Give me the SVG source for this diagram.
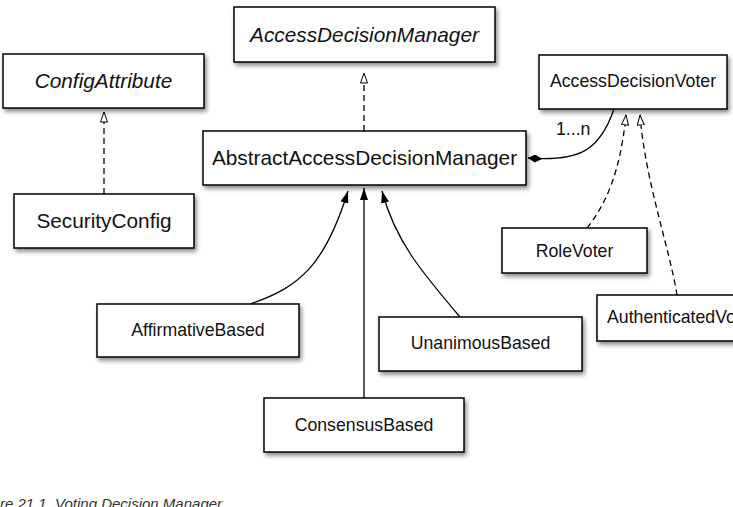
<svg xmlns="http://www.w3.org/2000/svg" width="733" height="507" viewBox="0 0 733 507">
<style>
.box{fill:#fff;stroke:#000;stroke-width:1.5;filter:url(#sh)}
.big{font-family:"Liberation Sans",Arial,sans-serif;font-size:20.8px;fill:#111;text-anchor:middle}
.sm{font-family:"Liberation Sans",Arial,sans-serif;font-size:17.7px;fill:#111;text-anchor:middle}
.it{font-style:italic}
.c{fill:none;stroke:#000;stroke-width:1.3}
.d{stroke-dasharray:6 4}
</style>
<defs>
<filter id="sh" x="-10%" y="-20%" width="125%" height="160%">
<feDropShadow dx="2" dy="3" stdDeviation="2.2" flood-color="#000" flood-opacity="0.45"/>
</filter>
<marker id="fa" viewBox="0 0 12 8" markerWidth="12" markerHeight="8" refX="12" refY="4" orient="auto" markerUnits="userSpaceOnUse">
<path d="M0,0 L12,4 L0,8 z" fill="#000"/>
</marker>
<marker id="ha" viewBox="0 0 11 8" markerWidth="11" markerHeight="8" refX="10.5" refY="4" orient="auto" markerUnits="userSpaceOnUse">
<path d="M0.5,0.5 L10.5,4 L0.5,7.5 z" fill="#fff" stroke="#000" stroke-width="1"/>
</marker>
<marker id="dm" viewBox="0 0 14 8" markerWidth="14" markerHeight="8" refX="0" refY="4" orient="auto" markerUnits="userSpaceOnUse">
<path d="M0,4 L7,0 L14,4 L7,8 z" fill="#000"/>
</marker>
</defs>
<rect width="733" height="507" fill="#fff"/>

<g id="connectors">
<path class="c d" d="M104 194 L104 112" marker-end="url(#ha)"/>
<path class="c d" d="M364 131 L364 73" marker-end="url(#ha)"/>
<path class="c" d="M528 158 C580 162 600 150 614 109" marker-start="url(#dm)"/>
<path class="c d" d="M587 228 C605 205 620 175 626 115" marker-end="url(#ha)"/>
<path class="c d" d="M677 295 C670 250 645 180 640 115" marker-end="url(#ha)"/>
<path class="c" d="M250 304 C300 287 325 265 348 191" marker-end="url(#fa)"/>
<path class="c" d="M364 398 L364 188" marker-end="url(#fa)"/>
<path class="c" d="M460 317 C420 270 395 240 382 191" marker-end="url(#fa)"/>
<text x="556" y="135" class="sm" style="text-anchor:start">1...n</text>
</g>

<g id="AccessDecisionManager">
<rect class="box" x="234" y="7" width="261" height="55"/>
<text class="big it" x="364.5" y="41.5">AccessDecisionManager</text>
</g>
<g id="ConfigAttribute">
<rect class="box" x="3" y="54" width="201" height="54"/>
<text class="big it" x="103.5" y="88">ConfigAttribute</text>
</g>
<g id="SecurityConfig">
<rect class="box" x="14" y="194" width="180" height="54"/>
<text class="big" x="104" y="228">SecurityConfig</text>
</g>
<g id="AbstractAccessDecisionManager">
<rect class="box" x="203" y="131" width="323" height="54"/>
<text class="big" x="364.5" y="165">AbstractAccessDecisionManager</text>
</g>
<g id="AccessDecisionVoter">
<rect class="box" x="539" y="55" width="188" height="54"/>
<text class="sm" x="633" y="87">AccessDecisionVoter</text>
</g>
<g id="RoleVoter">
<rect class="box" x="502" y="228" width="145" height="45"/>
<text class="sm" x="574.5" y="257">RoleVoter</text>
</g>
<g id="AuthenticatedVoter">
<rect class="box" x="597" y="295" width="175" height="46"/>
<text class="sm" x="607" y="323" style="text-anchor:start">AuthenticatedVoter</text>
</g>
<g id="AffirmativeBased">
<rect class="box" x="97" y="304" width="202" height="53"/>
<text class="sm" x="198" y="336">AffirmativeBased</text>
</g>
<g id="UnanimousBased">
<rect class="box" x="379" y="317" width="203" height="54"/>
<text class="sm" x="480.5" y="349">UnanimousBased</text>
</g>
<g id="ConsensusBased">
<rect class="box" x="264" y="398" width="200" height="54"/>
<text class="sm" x="364" y="431">ConsensusBased</text>
</g>

<text x="0" y="509" style="font-family:'Liberation Sans',Arial,sans-serif;font-size:15px;font-style:italic;fill:#333">re 21.1. Voting Decision Manager</text>
</svg>
